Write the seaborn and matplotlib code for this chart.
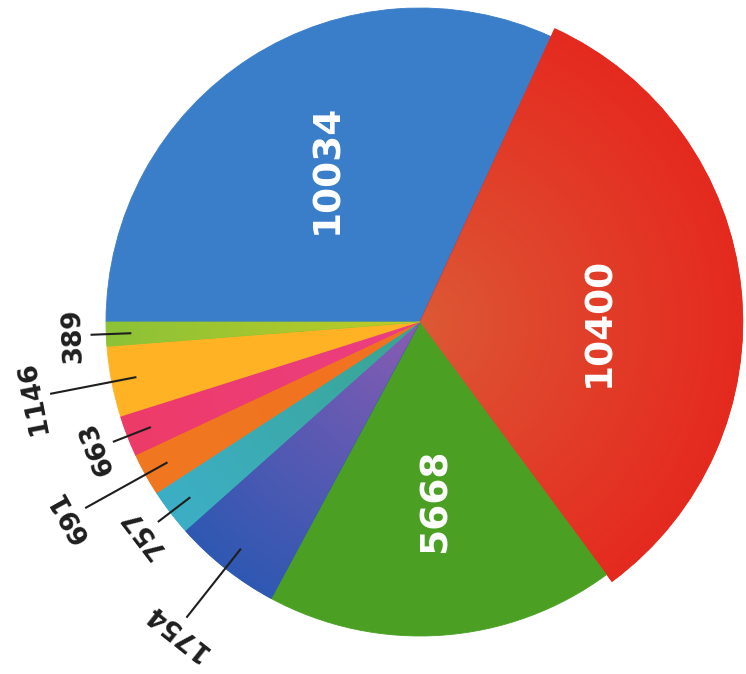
import numpy as np
import matplotlib.pyplot as plt
import matplotlib.colors as mcolors
import seaborn as sns

# slice values, clockwise from the left horizontal
values = [10034, 10400, 5668, 1754, 757, 691, 663, 1146, 389]
labels = ["10034", "10400", "5668", "1754", "757", "691", "663", "1146", "389"]
outer_colors = ["#3a7dc8", "#e52a1f", "#4ba024", "#2f58b3", "#3cafc6", "#f07820", "#ee3b68", "#ffb324", "#8cc237"]
inner_colors = ["#3a7dc8", "#dc5a36", "#4ba024", "#8e5cb2", "#3aa48c", "#f27020", "#ea3f86", "#ffb324", "#c2cc24"]

sns.set_theme(style="white")
plt.rcParams['font.family'] = ['DejaVu Sans']


def shade(ax, w, c_in, c_out):
    # radial gradient painted inside one wedge
    cx, cy = w.center
    r = w.r
    xs = np.linspace(cx - r, cx + r, 500)
    ys = np.linspace(cy - r, cy + r, 500)
    gx, gy = np.meshgrid(xs, ys)
    d = np.clip(np.hypot(gx - cx, gy - cy) / r, 0, 1)[..., None]
    a = np.array(mcolors.to_rgb(c_in))
    b = np.array(mcolors.to_rgb(c_out))
    img = a + (b - a) * d ** 0.9
    im = ax.imshow(img, extent=(cx - r, cx + r, cy - r, cy + r), origin="lower",
                   interpolation="bilinear", zorder=w.get_zorder() + 0.1)
    im.set_clip_path(w)


fig = plt.figure(figsize=(7.46, 6.74), dpi=100)
ax = fig.add_axes([0, 0, 1, 1])

wedges, _ = ax.pie(values, colors=outer_colors, startangle=180, counterclock=False,
                   radius=1, wedgeprops=dict(linewidth=0.6))

# the red slice sticks out a little past the rim
wedges[1].set_radius(1.028)

for w, ci, co in zip(wedges, inner_colors, outer_colors):
    w.set_edgecolor(co)
    if ci != co:
        shade(ax, w, ci, co)

big_shift = {0: -1.5, 1: -6, 2: 1}
leader_end = {3: 1.20, 4: 1.05, 5: 1.22, 6: 1.05, 7: 1.20, 8: 1.05}

for i, (w, lab) in enumerate(zip(wedges, labels)):
    ang = (w.theta1 + w.theta2) / 2
    if i in big_shift:
        t = np.deg2rad(ang + big_shift[i])
        ax.text(0.57 * np.cos(t), 0.57 * np.sin(t), lab, rotation=90,
                ha="center", va="center", rotation_mode="anchor",
                color="white", fontsize=27, fontweight="bold", zorder=5)
    else:
        t = np.deg2rad(ang)
        r1 = leader_end[i]
        ax.plot([0.92 * np.cos(t), r1 * np.cos(t)], [0.92 * np.sin(t), r1 * np.sin(t)],
                color="#1e1e1e", lw=1.5, zorder=5, solid_capstyle="butt")
        rt = r1 + 0.055
        ax.text(rt * np.cos(t), rt * np.sin(t), lab, rotation=(ang - 90) % 360,
                ha="center", va="center", rotation_mode="anchor",
                color="#1e1e1e", fontsize=19, fontweight="bold", zorder=5)

ax.set_xlim(-420 / 314, 326 / 314)
ax.set_ylim(-352 / 314, 322 / 314)
ax.set_aspect("auto")
ax.axis("off")

fig.savefig("out.png", dpi=100)
